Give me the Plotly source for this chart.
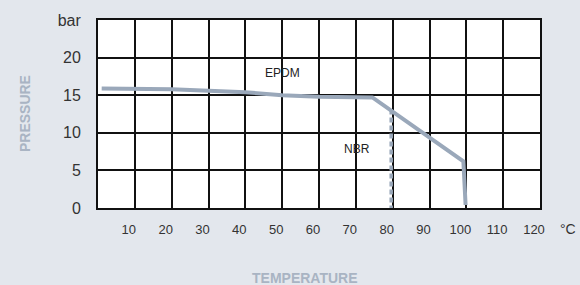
import plotly.graph_objects as go

# Data
epdm_temp = [1, 20, 40, 50, 60, 74.5, 99.2, 99.8]
epdm_pressure = [15.9, 15.8, 15.4, 15.0, 14.8, 14.7, 6.2, 0.4]
nbr_temp = [79.6, 79.6]
nbr_pressure = [13.1, 0]
x_ticks = [10, 20, 30, 40, 50, 60, 70, 80, 90, 100, 110, 120]
y_ticks = [0, 5, 10, 15, 20, 25]
y_ticktext = ["0", "5", "10", "15", "20", "bar"]

LINE_COLOR = "#9aa8ba"
BG = "#e3e7ed"
FONT = "Liberation Sans Narrow, Liberation Sans, Arial"

fig = go.Figure()
fig.add_trace(go.Scatter(x=epdm_temp, y=epdm_pressure, mode="lines",
                         line=dict(color=LINE_COLOR, width=4), showlegend=False))
fig.add_trace(go.Scatter(x=nbr_temp, y=nbr_pressure, mode="lines",
                         line=dict(color=LINE_COLOR, width=3.5, dash="5px,3px"), showlegend=False))

fig.add_annotation(x=50, y=18, text="EPDM", showarrow=False,
                   font=dict(family=FONT, size=12, color="#222"))
fig.add_annotation(x=70.4, y=7.8, text="NBR", showarrow=False,
                   font=dict(family=FONT, size=12, color="#222"))
fig.add_annotation(x=1, xref="paper", y=0, yref="paper", text="°C",
                   xanchor="left", yanchor="middle", xshift=18, yshift=-21, showarrow=False,
                   font=dict(family=FONT, size=14, color="#333"))
fig.add_annotation(x=0.468, xref="paper", y=-0.37, yref="paper", text="<b>TEMPERATURE</b>",
                   showarrow=False, yanchor="middle",
                   font=dict(family="Liberation Sans, Arial", size=14, color="#a9b4c3"))
fig.add_annotation(x=-0.165, xref="paper", y=0.5, yref="paper", text="<b>PRESSURE</b>",
                   showarrow=False, textangle=-90, xanchor="center",
                   font=dict(family="Liberation Sans, Arial", size=14, color="#a9b4c3"))

fig.update_xaxes(range=[0, 120], tickvals=x_ticks, ticktext=[str(v) for v in x_ticks],
                 showgrid=True, gridcolor="#111", gridwidth=2,
                 showline=True, linecolor="#111", linewidth=2, mirror=True,
                 ticks="", zeroline=False, ticklabelshift=-6, ticklabelstandoff=8,
                 tickfont=dict(family=FONT, size=13, color="#333"))
fig.update_yaxes(range=[0, 25], tickvals=y_ticks, ticktext=y_ticktext,
                 showgrid=True, gridcolor="#111", gridwidth=2,
                 showline=True, linecolor="#111", linewidth=2, mirror=True,
                 ticks="", zeroline=False, ticklabelstandoff=12,
                 tickfont=dict(family="Liberation Sans, Arial", size=16, color="#333"))

fig.update_layout(width=580, height=285, paper_bgcolor=BG, plot_bgcolor="white",
                  margin=dict(l=98, r=40, t=20, b=77))
fig.write_html("out.html", config={"displayModeBar": False},
               post_script="document.body.style.margin='0';document.body.style.overflow='hidden';")
